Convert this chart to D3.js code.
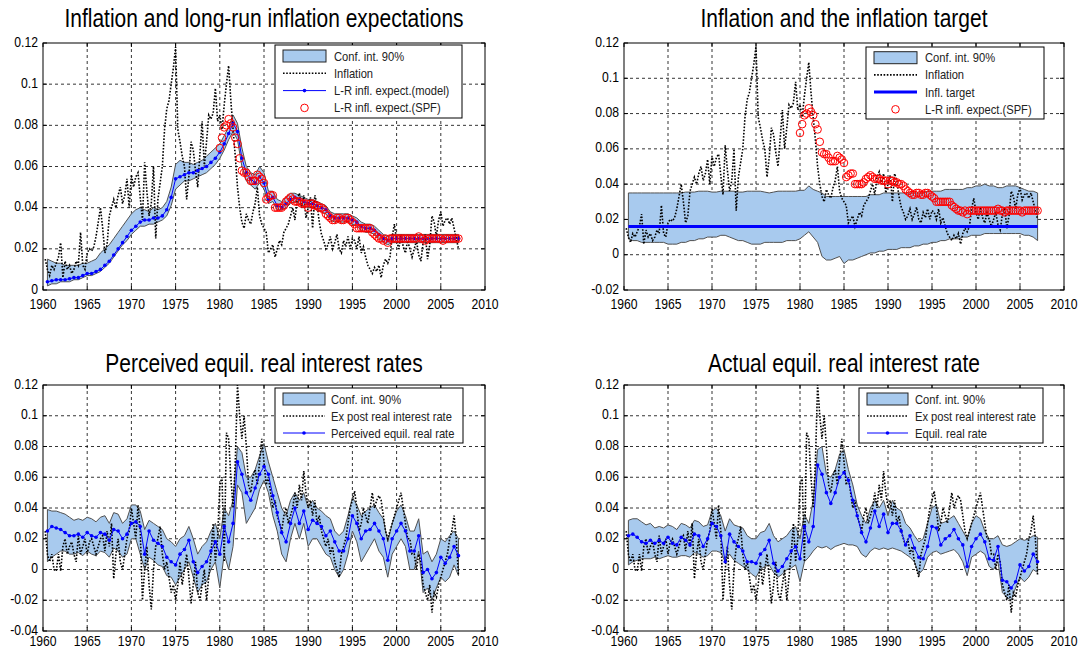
<!DOCTYPE html>
<html><head><meta charset="utf-8">
<script src="https://cdn.jsdelivr.net/npm/d3@7"></script>
<style>body{margin:0;background:#fff}svg{display:block}text{font-family:"Liberation Sans",Arial,sans-serif;fill:#000}</style>
</head><body><svg id="c" width="1080" height="650"></svg>
<script>
// ---------- DATA ----------
// Quarterly series, first point 1960.25, step 0.25 (rows = one year)
const inflation = [
 .015,.010,.007,.012, .010,.013,.016,.023, .006,.014,.010,.012, .008,.010,.014,.012,
 .028,.012,.010,.018, .020,.019,.021,.026, .033,.040,.030,.018, .022,.036,.040,.044,
 .040,.046,.050,.042, .046,.054,.040,.056, .050,.055,.057,.045, .034,.062,.048,.036,
 .042,.060,.025,.044, .052,.060,.078,.088, .092,.100,.108,.118, .078,.072,.065,.060,
 .044,.055,.072,.068, .058,.050,.066,.082, .060,.072,.085,.083, .086,.098,.082,.085,
 .078,.090,.100,.109, .092,.078,.065,.050, .040,.033,.030,.037, .034,.032,.038,.042,
 .050,.036,.032,.030, .028,.018,.020,.022, .016,.020,.024,.022, .028,.030,.032,.036,
 .040,.034,.044,.047, .040,.046,.035,.040, .045,.030,.046,.042, .033,.027,.024,.020,
 .022,.026,.020,.023, .027,.020,.018,.024, .021,.026,.020,.025, .024,.020,.026,.018,
 .021,.016,.012,.010, .008,.011,.009,.012, .006,.012,.015,.013, .016,.026,.032,.024,
 .020,.027,.021,.018, .024,.020,.016,.020, .024,.017,.014,.023, .027,.015,.022,.036,
 .033,.026,.034,.038, .031,.034,.035,.032, .035,.030,.025,.020
];
const expostRate = [
 .025,.010,.005,.010, .000,-.001,.010,-.001, .015,.020,.010,.015, .018,.010,.005,.022,
 .010,.015,.020,.010, .018,.020,.015,.010, .015,.020,.022,.012, .025,.015,.030,-.006,
 .010,.020,.005,.000, .010,.020,.025,.040, .030,.020,.042,.025, -.020,.000,.015,-.010,
 -.026,.000,.015,.020, .028,.010,.000,.005, -.005,-.015,-.010,-.020, -.010,.005,-.010,.000,
 .010,-.005,-.022,-.010, .005,-.015,-.020,-.010, .000,-.020,-.005,.010, .030,.005,.020,.055,
 .060,.005,.089,.085, .060,.040,.070,.120, .100,.085,.100,.080, .055,.050,.060,.065,
 .055,.070,.085,.070, .055,.060,.050,.040, .045,.035,.030,.025, .035,.040,.030,.035,
 .040,.050,.040,.055, .045,.064,.050,.040, .045,.035,.045,.030, .035,.025,.020,.015,
 .020,.010,.015,.005, .000,-.005,.010,.015, .020,.030,.040,.045, .051,.040,.025,.030,
 .040,.035,.030,.040, .050,.040,.045,.048, .045,.035,.025,.020, .025,.030,.035,.040,
 .045,.050,.040,.030, .020,.020,.010,.010, .000,.010,.005,-.010, -.015,-.020,-.010,-.028,
 -.015,-.018,-.010,-.005, .000,.005,.010,.020, .025,.035,.020,-.004
];
// Semi-annual series, first point 1960.5, step 0.5 (rows = one year)
const expModel = [
 .004,.0045, .005,.005, .005,.0055, .006,.006, .007,.008, .008,.009, .010,.012, .014,.017,
 .020,.023, .026,.029, .031,.033, .034,.034, .035,.035, .036,.039, .045,.054, .055,.056,
 .057,.057, .058,.059, .060,.062, .064,.067, .071,.076, .081,.077, .064,.057, .054,.052,
 .055,.052, .044,.045, .041,.040, .042,.044, .045,.044, .043,.042, .042,.041, .040,.039,
 .036,.035, .035,.035, .035,.034, .033,.031, .030,.030, .029,.027, .025,.024, .025,.025,
 .025,.025, .025,.025, .025,.025, .025,.025, .025,.025, .025,.025, .025,.025
];
const expLo = [
 .002,.003, .003,.004, .004,.004, .005,.005, .006,.007, .007,.008, .009,.011, .013,.016,
 .019,.022, .024,.027, .029,.031, .031,.032, .032,.033, .034,.036, .041,.049, .051,.053,
 .053,.054, .055,.056, .057,.059, .061,.064, .068,.073, .077,.073, .060,.053, .051,.049,
 .052,.049, .042,.043, .039,.039, .040,.042, .043,.042, .041,.040, .040,.039, .038,.037,
 .034,.033, .033,.033, .033,.032, .031,.029, .028,.028, .027,.025, .023,.022, .023,.023,
 .023,.023, .023,.023, .023,.023, .023,.023, .023,.023, .023,.023, .023,.023
];
const expHi = [
 .015,.014, .013,.013, .012,.012, .012,.012, .013,.013, .014,.015, .018,.020, .022,.025,
 .028,.031, .034,.037, .039,.040, .039,.038, .040,.039, .040,.043, .050,.061, .063,.062,
 .062,.061, .062,.063, .065,.067, .069,.071, .075,.079, .085,.081, .069,.060, .057,.056,
 .060,.057, .048,.048, .044,.043, .045,.047, .047,.046, .045,.044, .044,.043, .042,.041,
 .038,.037, .037,.037, .037,.036, .035,.033, .032,.032, .031,.029, .027,.026, .027,.027,
 .027,.027, .027,.027, .027,.027, .027,.027, .027,.027, .027,.027, .027,.027
];
const targetLo = [
 .009,.008, .008,.007, .007,.007, .007,.007, .007,.006, .006,.006, .007,.007, .008,.008,
 .009,.009, .010,.010, .010,.011, .011,.010, .009,.008, .008,.007, .006,.006, .006,.007,
 .007,.007, .007,.007, .008,.008, .008,.009, .011,.013, .010,.007, -.001,-.003, -.003,-.002,
 -.001,-.005, -.003,-.003, -.002,-.001, .000,.001, .001,.002, .002,.003, .003,.003, .004,.004,
 .004,.005, .005,.006, .006,.007, .007,.008, .008,.009, .009,.009, .010,.010, .011,.011,
 .011,.012, .012,.012, .012,.012, .012,.012, .012,.012, .011,.011, .010,.008
];
const targetHi = [
 .035,.035, .035,.035, .035,.035, .035,.035, .035,.035, .035,.035, .035,.0355, .0355,.0355,
 .036,.036, .036,.0355, .0355,.036, .036,.036, .036,.0355, .0355,.036, .036,.036, .036,.0355,
 .035,.0355, .036,.036, .036,.036, .036,.0365, .0365,.039, .037,.036, .035,.033, .033,.033,
 .033,.033, .033,.033, .033,.033, .033,.034, .034,.034, .035,.035, .035,.035, .035,.035,
 .035,.035, .035,.035, .036,.036, .036,.036, .037,.037, .037,.037, .037,.038, .038,.039,
 .039,.040, .039,.039, .038,.038, .039,.039, .039,.038, .037,.036, .036,.035
];
const inflTarget = [.016];
const percRate = [
 .025,.028, .027,.026, .024,.022, .022,.023, .021,.024, .022,.021, .024,.023, .019,.026,
 .025,.020, .023,.030, .031,.028, .010,.025, .019,.017, .015,.008, .005,.003, .010,.013,
 .019,.005, -.002,.002, .005,.012, .018,.010, .028,.018, .030,.070, .062,.050, .045,.053,
 .062,.067, .062,.048, .037,.024, .018,.030, .040,.030, .038,.026, .032,.030, .028,.022,
 .025,.018, .012,.012, .020,.035, .030,.020, .025,.026, .030,.025, .020,.006, .020,.025,
 .030,.025, .012,.012, .022,-.002, .000,-.006, -.002,.008, .004,.008, .015,.009
];
const percLo = [
 .005,.008, .010,.012, .012,.010, .010,.011, .009,.012, .010,.009, .012,.011, .008,.014,
 .012,.008, .010,.020, .020,.010, .000,.008, .006,.003, .002,-.004, -.005,-.010, -.005,.000,
 .005,-.005, -.015,-.010, -.008,.000, .005,-.012, .010,.000, .015,.055, .050,.030, .035,.040,
 .052,.058, .050,.035, .025,.010, .005,.020, .030,.020, .030,.015, .020,.020, .015,.010,
 .008,.000, -.005,.000, .010,.025, .018,.005, .010,.015, .020,.012, .008,-.005, .010,.015,
 .020,.015, .000,.000, .012,-.015, -.012,-.020, -.012,-.005, -.008,-.005, .003,-.004
];
const percHi = [
 .039,.038, .038,.037, .036,.034, .032,.033, .032,.034, .033,.031, .034,.035, .030,.037,
 .036,.030, .033,.042, .042,.038, .026,.032, .030,.028, .026,.020, .018,.015, .020,.022,
 .028,.020, .010,.015, .018,.025, .030,.020, .040,.035, .045,.080, .076,.060, .060,.065,
 .074,.082, .070,.060, .050,.040, .035,.045, .050,.045, .050,.040, .045,.040, .038,.035,
 .033,.025, .022,.025, .035,.047, .042,.035, .038,.040, .042,.037, .033,.018, .030,.038,
 .042,.035, .025,.025, .033,.010, .012,.005, .010,.020, .018,.022, .025,.020
];
const eqRate = [
 .022,.023, .021,.018, .017,.019, .017,.019, .017,.021, .017,.016, .021,.019, .016,.023,
 .022,.015, .020,.030, .028,.022, .005,.023, .018,.015, .012,.005, .005,.004, .010,.013,
 .019,.004, -.001,.002, .007,.012, .015,.007, .028,.018, .028,.068, .062,.050, .043,.050,
 .060,.063, .058,.045, .035,.024, .018,.027, .038,.028, .036,.024, .030,.030, .025,.016,
 .022,.014, .008,.007, .015,.028, .027,.016, .020,.022, .026,.020, .016,.002, .015,.020,
 .023,.018, .007,.006, .015,-.007, -.008,-.012, -.008,.003, -.001,.002, .010,.005
];
const eqLo = [
 .003,.005, .006,.007, .007,.007, .008,.007, .008,.009, .008,.008, .009,.009, .008,.011,
 .010,.008, .009,.012, .012,.011, .005,.010, .006,.004, .002,.000, -.003,-.005, .000,.002,
 .003,-.002, -.005,-.003, .000,.001, .003,-.008, .005,.008, .012,.015, .014,.015, .013,.015,
 .016,.017, .016,.016, .015,.010, .008,.012, .014,.013, .014,.013, .014,.013, .012,.010,
 .008,.005, -.003,.000, .008,.011, .012,.010, .011,.012, .013,.010, .005,-.004, .008,.010,
 .012,.010, .002,.000, .005,-.015, -.018,-.020, -.012,-.005, -.008,-.005, .000,-.002
];
const eqHi = [
 .032,.033, .033,.031, .029,.030, .027,.028, .027,.029, .028,.026, .030,.029, .027,.032,
 .031,.028, .029,.038, .040,.035, .025,.033, .029,.028, .027,.022, .020,.020, .024,.025,
 .030,.022, .018,.020, .022,.026, .028,.020, .036,.030, .045,.078, .080,.062, .060,.065,
 .075,.078, .065,.055, .042,.035, .030,.040, .045,.040, .045,.035, .045,.040, .038,.030,
 .027,.022, .018,.020, .030,.040, .042,.030, .031,.033, .035,.030, .025,.020, .030,.035,
 .033,.025, .020,.020, .022,.016, .015,.016, .018,.020, .019,.020, .022,.021
];
// SPF long-run inflation expectations, quarterly from 1980.0
const spfExpect = [
 .069,.074,.079,.080, .083,.081,.079,.074, .071,.064,.058,.057, .057,.055,.053,.053,
 .053,.056,.055,.054, .052,.044,.045,.046, .046,.040,.040,.040, .040,.041,.043,.044,
 .045,.044,.043,.043, .043,.042,.042,.042, .040,.042,.042,.041, .041,.040,.040,.039,
 .037,.036,.035,.034, .034,.035,.035,.034, .034,.035,.035,.034, .033,.032,.030,.030,
 .030,.030,.030,.030, .030,.028,.027,.026, .025,.025,.024,.025, .023,.025,.025,.025,
 .025,.025,.025,.025, .025,.025,.025,.025, .025,.025,.026,.025, .025,.024,.025,.025,
 .025,.025,.025,.025, .025,.024,.025,.025, .025,.025,.025,.025, .025
];
const xTicks = [1960,1965,1970,1975,1980,1985,1990,1995,2000,2005,2010];
const yTicks1 = [0,0.02,0.04,0.06,0.08,0.1,0.12];
const yTicks2 = [-0.02,0,0.02,0.04,0.06,0.08,0.1,0.12];
const yTicks3 = [-0.04,-0.02,0,0.02,0.04,0.06,0.08,0.1,0.12];
const titles = ["Inflation and long-run inflation expectations","Inflation and the inflation target",
  "Perceived equil. real interest rates","Actual equil. real interest rate"];

// ---------- HELPERS ----------
const qT = i => 1960.25 + i * 0.25;
const hT = i => 1960.5 + i * 0.5;
const sT = i => 1980 + i * 0.25;
const toPts = (arr, tf) => arr.map((v, i) => [tf(i), v]);
const toBand = (lo, hi, tf) => lo.map((v, i) => [tf(i), v, hi[i]]);

const svg = d3.select('#c');
const BAND = '#a8caee', BANDSTROKE = '#505050';
const SX = 0.84;
function txt(g, x, y, s, size, anchor, sx) {
  return g.append('text').attr('transform', `translate(${x},${y}) scale(${sx},1)`)
    .attr('text-anchor', anchor).attr('font-size', size).text(s);
}
const fmt = v => (+v.toFixed(2)).toString();

function panel(cfg, id) {
  const {L, R, T, B, ydom, yticks} = cfg;
  const x = d3.scaleLinear().domain([1960, 2010]).range([L, R]);
  const y = d3.scaleLinear().domain(ydom).range([B, T]);
  const g = svg.append('g');
  g.append('rect').attr('x', L).attr('y', T).attr('width', R - L).attr('height', B - T).attr('fill', '#fff');
  g.append('clipPath').attr('id', 'clip' + id).append('rect')
    .attr('x', L).attr('y', T).attr('width', R - L).attr('height', B - T);
  const grid = g.append('g').attr('stroke', '#000').attr('stroke-width', 0.8).attr('stroke-dasharray', '3,3');
  xTicks.slice(1, -1).forEach(t => grid.append('line').attr('x1', x(t)).attr('x2', x(t)).attr('y1', T).attr('y2', B));
  yticks.slice(1, -1).forEach(t => grid.append('line').attr('x1', L).attr('x2', R).attr('y1', y(t)).attr('y2', y(t)));
  const data = g.append('g').attr('clip-path', `url(#clip${id})`);
  return {x, y, g, data};
}

function drawBand(P, band) {
  const area = d3.area().x(d => P.x(d[0])).y0(d => P.y(d[1])).y1(d => P.y(d[2]));
  P.data.append('path').datum(band).attr('d', area).attr('fill', BAND).attr('stroke', BANDSTROKE).attr('stroke-width', 1);
}
function drawDotted(P, pts) {
  const line = d3.line().x(d => P.x(d[0])).y(d => P.y(d[1]));
  P.data.append('path').datum(pts).attr('d', line).attr('fill', 'none').attr('stroke', '#000')
    .attr('stroke-width', 1.6).attr('stroke-dasharray', '1.6,1.6');
}
function drawBlue(P, pts) {
  const line = d3.line().x(d => P.x(d[0])).y(d => P.y(d[1]));
  P.data.append('path').datum(pts).attr('d', line).attr('fill', 'none').attr('stroke', '#0000ff').attr('stroke-width', 1);
  P.data.append('g').selectAll('circle').data(pts).join('circle')
    .attr('cx', d => P.x(d[0])).attr('cy', d => P.y(d[1])).attr('r', 1.8).attr('fill', '#0000ff');
}
function drawCircles(P, pts) {
  P.data.append('g').selectAll('circle').data(pts).join('circle')
    .attr('cx', d => P.x(d[0])).attr('cy', d => P.y(d[1])).attr('r', 3.8)
    .attr('fill', 'none').attr('stroke', '#ff0000').attr('stroke-width', 1);
}
function frame(P, cfg) {
  const {L, R, T, B, yticks, title, xlab, tt} = cfg;
  const g = P.g;
  const tk = g.append('g').attr('stroke', '#000').attr('stroke-width', 1);
  xTicks.forEach(t => {
    tk.append('line').attr('x1', P.x(t)).attr('x2', P.x(t)).attr('y1', B).attr('y2', B - 4);
    tk.append('line').attr('x1', P.x(t)).attr('x2', P.x(t)).attr('y1', T).attr('y2', T + 4);
    txt(g, P.x(t), B + xlab, t, 14.5, 'middle', SX);
  });
  yticks.forEach(t => {
    tk.append('line').attr('x1', L).attr('x2', L + 4).attr('y1', P.y(t)).attr('y2', P.y(t));
    tk.append('line').attr('x1', R).attr('x2', R - 4).attr('y1', P.y(t)).attr('y2', P.y(t));
    txt(g, L - 5, P.y(t) + 3.5, fmt(t), 14.5, 'end', SX);
  });
  g.append('rect').attr('x', L).attr('y', T).attr('width', R - L).attr('height', B - T)
    .attr('fill', 'none').attr('stroke', '#000').attr('stroke-width', 1);
  txt(g, (L + R) / 2, T - tt, title, 25, 'middle', SX);
}
function legend(P, box, items) {
  const g = P.g.append('g');
  g.append('rect').attr('x', box.x).attr('y', box.y).attr('width', box.w).attr('height', box.h)
    .attr('fill', '#fff').attr('stroke', '#000').attr('stroke-width', 1);
  items.forEach((it, i) => {
    const cy = box.y + box.r0 + i * box.dy;
    const x1 = box.x + 8, x2 = box.x + 8 + box.sw, xm = (x1 + x2) / 2;
    if (it.type === 'band') g.append('rect').attr('x', x1).attr('y', cy - 6).attr('width', box.sw).attr('height', 12)
      .attr('fill', BAND).attr('stroke', '#222').attr('stroke-width', 1);
    if (it.type === 'dot') g.append('line').attr('x1', x1).attr('x2', x2).attr('y1', cy).attr('y2', cy)
      .attr('stroke', '#000').attr('stroke-width', 1.6).attr('stroke-dasharray', '1.6,1.6');
    if (it.type === 'blue') { g.append('line').attr('x1', x1).attr('x2', x2).attr('y1', cy).attr('y2', cy)
      .attr('stroke', '#0000ff').attr('stroke-width', 1);
      g.append('circle').attr('cx', xm).attr('cy', cy).attr('r', 1.8).attr('fill', '#0000ff'); }
    if (it.type === 'thick') g.append('line').attr('x1', x1).attr('x2', x2).attr('y1', cy).attr('y2', cy)
      .attr('stroke', '#0000ff').attr('stroke-width', 3);
    if (it.type === 'circle') g.append('circle').attr('cx', xm).attr('cy', cy).attr('r', 3.8)
      .attr('fill', 'none').attr('stroke', '#ff0000').attr('stroke-width', 1);
    txt(g, box.x + box.tx, cy + 4.5, it.label, 13.3, 'start', SX).style('fill', '#222');
  });
}

// ---------- PANELS ----------
const cfgs = [
  {L: 43, R: 485, T: 43, B: 290, ydom: [0, 0.12], yticks: yTicks1, title: titles[0], xlab: 19, tt: 16},
  {L: 624, R: 1064, T: 43, B: 290, ydom: [-0.02, 0.12], yticks: yTicks2, title: titles[1], xlab: 19, tt: 16},
  {L: 43, R: 485, T: 385, B: 631, ydom: [-0.04, 0.12], yticks: yTicks3, title: titles[2], xlab: 15, tt: 13},
  {L: 624, R: 1064, T: 385, B: 631, ydom: [-0.04, 0.12], yticks: yTicks3, title: titles[3], xlab: 15, tt: 13}
];

// Panel 1
let P = panel(cfgs[0], 1);
drawBand(P, toBand(expLo, expHi, hT));
drawDotted(P, toPts(inflation, qT));
drawBlue(P, toPts(expModel, hT));
drawCircles(P, toPts(spfExpect, sT));
frame(P, cfgs[0]);
legend(P, {x: 275, y: 45, w: 187, h: 73, r0: 11, dy: 17.3, sw: 43, tx: 59},
  [{type: 'band', label: 'Conf. int. 90%'}, {type: 'dot', label: 'Inflation'},
   {type: 'blue', label: 'L-R infl. expect.(model)'}, {type: 'circle', label: 'L-R infl. expect.(SPF)'}]);

// Panel 2
P = panel(cfgs[1], 2);
drawBand(P, toBand(targetLo, targetHi, hT));
drawDotted(P, toPts(inflation, qT));
const tgtLine = [[hT(0), inflTarget[0]], [hT(expLo.length - 1), inflTarget[0]]];
P.data.append('path').datum(tgtLine).attr('d', d3.line().x(d => P.x(d[0])).y(d => P.y(d[1])))
  .attr('stroke', '#0000ff').attr('stroke-width', 3).attr('fill', 'none');
drawCircles(P, toPts(spfExpect, sT));
frame(P, cfgs[1]);
legend(P, {x: 866, y: 47, w: 178, h: 72, r0: 10.7, dy: 17.2, sw: 43, tx: 59},
  [{type: 'band', label: 'Conf. int. 90%'}, {type: 'dot', label: 'Inflation'},
   {type: 'thick', label: 'Infl. target'}, {type: 'circle', label: 'L-R infl. expect.(SPF)'}]);

// Panel 3
P = panel(cfgs[2], 3);
drawBand(P, toBand(percLo, percHi, hT));
drawDotted(P, toPts(expostRate, qT));
drawBlue(P, toPts(percRate, hT));
frame(P, cfgs[2]);
legend(P, {x: 275, y: 388, w: 188, h: 55, r0: 11, dy: 17, sw: 42, tx: 56},
  [{type: 'band', label: 'Conf. int. 90%'}, {type: 'dot', label: 'Ex post real interest rate'},
   {type: 'blue', label: 'Perceived equil. real rate'}]);

// Panel 4
P = panel(cfgs[3], 4);
drawBand(P, toBand(eqLo, eqHi, hT));
drawDotted(P, toPts(expostRate, qT));
drawBlue(P, toPts(eqRate, hT));
frame(P, cfgs[3]);
legend(P, {x: 859, y: 388, w: 184, h: 55, r0: 11, dy: 17, sw: 41, tx: 56},
  [{type: 'band', label: 'Conf. int. 90%'}, {type: 'dot', label: 'Ex post real interest rate'},
   {type: 'blue', label: 'Equil. real rate'}]);
</script></body></html>
